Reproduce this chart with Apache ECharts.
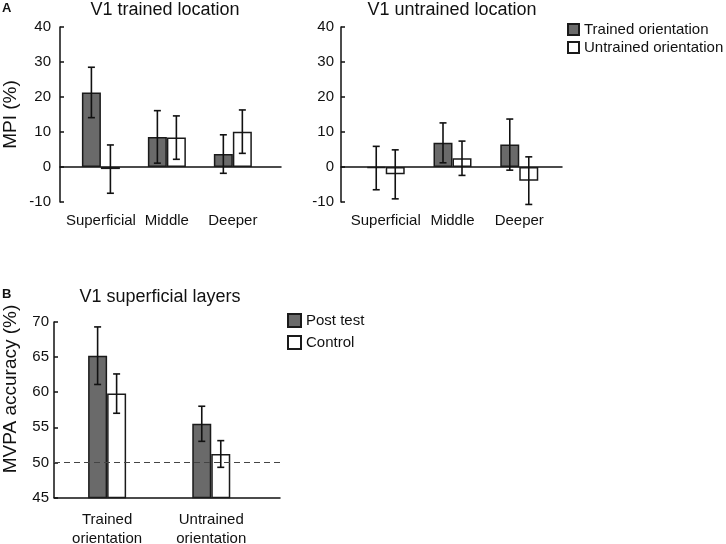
<!DOCTYPE html>
<html><head><meta charset="utf-8">
<script src="https://cdn.jsdelivr.net/npm/echarts@6/dist/echarts.min.js"></script>
<style>html,body{margin:0;padding:0;background:#fff}#c{width:726px;height:544px}</style>
</head><body><div id="c"></div>
<script>
// ---- Panel A data (MPI %) ----
const layerCats = ['Superficial', 'Middle', 'Deeper'];
const trainedLocTrained = [21.3, 8.6, 3.7];
const trainedLocTrainedErr = [7.2, 7.5, 5.5];
const trainedLocUntrained = [-0.6, 8.4, 10.1];
const trainedLocUntrainedErr = [6.9, 6.2, 6.2];
const untrainedLocTrained = [-0.3, 6.9, 6.4];
const untrainedLocTrainedErr = [6.2, 5.7, 7.3];
const untrainedLocUntrained = [-2.1, 2.5, -3.9];
const untrainedLocUntrainedErr = [7.0, 4.9, 6.8];

// ---- Panel B data (MVPA accuracy %) ----
const orientCats = ['Trained\norientation', 'Untrained\norientation'];
const postTest = [65.2, 55.5];
const postTestErr = [4.1, 2.5];
const control = [59.8, 51.2];
const controlErr = [2.8, 1.9];
const chanceLevel = 50;

const FONT = 'Liberation Sans, Arial, sans-serif';
const INK = '#111';
const DARK = '#6a6a6a';
const EDGE = '#1a1a1a';

function barSeries(name, vals, xIdx, yIdx, fill, extra) {
  return Object.assign({
    type: 'bar', name: name, xAxisIndex: xIdx, yAxisIndex: yIdx,
    data: vals.map((v, i) => [i, v]),
    barWidth: 19, barGap: '0%',
    itemStyle: { color: fill, borderColor: EDGE, borderWidth: 1.5 },
    emphasis: { disabled: true }, z: 2
  }, extra || {});
}
function errSeries(vals, errs, xIdx, yIdx, offset) {
  return {
    type: 'custom', xAxisIndex: xIdx, yAxisIndex: yIdx, silent: true, z: 5,
    encode: { x: 0, y: [1, 2] },
    data: vals.map((v, i) => [i, v - errs[i], v + errs[i]]),
    renderItem: function (params, api) {
      const lo = api.coord([api.value(0), api.value(1)]);
      const hi = api.coord([api.value(0), api.value(2)]);
      const x = lo[0] + offset, c = 3.5;
      const st = { stroke: INK, lineWidth: 1.6 };
      return { type: 'group', children: [
        { type: 'line', shape: { x1: x, y1: lo[1], x2: x, y2: hi[1] }, style: st },
        { type: 'line', shape: { x1: x - c, y1: lo[1], x2: x + c, y2: lo[1] }, style: st },
        { type: 'line', shape: { x1: x - c, y1: hi[1], x2: x + c, y2: hi[1] }, style: st }
      ]};
    }
  };
}
function lineAxis(grid, min, max) {
  return { type: 'value', gridIndex: grid, min: min, max: max, position: 'bottom',
    axisLine: { onZero: true, lineStyle: { color: INK, width: 1.5 } },
    axisTick: { show: false }, axisLabel: { show: false }, splitLine: { show: false } };
}
function labelAxis(grid, min, max, cats, margin, showLine) {
  return { type: 'value', gridIndex: grid, min: min, max: max, position: 'bottom',
    axisLine: { show: !!showLine, onZero: false, lineStyle: { color: INK, width: 1.5 } },
    axisTick: { show: false }, splitLine: { show: false },
    axisLabel: { customValues: cats.map((c, i) => i), formatter: v => cats[Math.round(v)] || '',
      fontSize: 15, color: INK, fontFamily: FONT, margin: margin, lineHeight: 19 } };
}
function yAx(grid, min, max, interval, margin, name) {
  const o = { type: 'value', gridIndex: grid, min: min, max: max, interval: interval,
    axisLine: { show: true, onZero: false, lineStyle: { color: INK, width: 1.5 } },
    axisTick: { show: true, inside: true, length: 4, lineStyle: { color: INK, width: 1.5 } },
    axisLabel: { fontSize: 15, color: INK, fontFamily: FONT, margin: margin },
    splitLine: { show: false } };
  if (name) Object.assign(o, { name: name, nameLocation: 'middle', nameGap: 40, nameRotate: 90,
    nameTextStyle: { fontSize: 19, color: INK, fontFamily: FONT } });
  return o;
}

const chart = echarts.init(document.getElementById('c'), null, { renderer: 'canvas' });
chart.setOption({
  animation: false,
  backgroundColor: '#fff',
  grid: [
    { left: 60, top: 27, width: 221, height: 175, outerBoundsMode: 'none', containLabel: false },
    { left: 341, top: 27, width: 221, height: 175, outerBoundsMode: 'none', containLabel: false },
    { left: 54, top: 322, width: 226, height: 175.5, outerBoundsMode: 'none', containLabel: false }
  ],
  xAxis: [
    lineAxis(0, -0.62, 2.73), labelAxis(0, -0.62, 2.73, layerCats, 9, false),
    lineAxis(1, -0.67, 2.64), labelAxis(1, -0.67, 2.64, layerCats, 9, false),
    labelAxis(2, -0.51, 1.66, orientCats, 13, true)
  ],
  yAxis: [
    yAx(0, -10, 40, 10, 9, 'MPI (%)'),
    yAx(1, -10, 40, 10, 7, null),
    yAx(2, 45, 70, 5, 5, null)
  ],
  legend: [
    { orient: 'vertical', left: 562, top: 17, itemWidth: 11, itemHeight: 11, itemGap: 3,
      itemTextGap: 4, icon: 'rect', selectedMode: false,
      textStyle: { fontSize: 15, color: INK, fontFamily: FONT },
      data: ['Trained orientation', 'Untrained orientation'] },
    { orient: 'vertical', left: 282, top: 308, itemWidth: 13, itemHeight: 13, itemGap: 7,
      itemTextGap: 3, icon: 'rect', selectedMode: false,
      textStyle: { fontSize: 15, color: INK, fontFamily: FONT },
      data: ['Post test', 'Control'] }
  ],
  graphic: [
    { type: 'text', x: 2, y: 8, style: { text: 'A', font: 'bold 13px ' + FONT, fill: INK, textVerticalAlign: 'middle', verticalAlign: 'middle' } },
    { type: 'text', x: 2, y: 294, style: { text: 'B', font: 'bold 13px ' + FONT, fill: INK, textVerticalAlign: 'middle', verticalAlign: 'middle' } },
    { type: 'text', x: 165, y: 10, style: { text: 'V1 trained location', font: '18px ' + FONT, fill: INK, textAlign: 'center', align: 'center', textVerticalAlign: 'middle', verticalAlign: 'middle' } },
    { type: 'text', x: 452, y: 10, style: { text: 'V1 untrained location', font: '18px ' + FONT, fill: INK, textAlign: 'center', align: 'center', textVerticalAlign: 'middle', verticalAlign: 'middle' } },
    { type: 'text', x: 160, y: 297, style: { text: 'V1 superficial layers', font: '18px ' + FONT, fill: INK, textAlign: 'center', align: 'center', textVerticalAlign: 'middle', verticalAlign: 'middle' } },
    { type: 'text', x: 11, y: 389, rotation: Math.PI / 2, style: { text: 'MVPA accuracy (%)', font: '19px ' + FONT, fill: INK, textAlign: 'center', align: 'center', textVerticalAlign: 'middle', verticalAlign: 'middle' } }
  ],
  series: [
    barSeries('Trained orientation', trainedLocTrained, 0, 0, DARK),
    barSeries('Untrained orientation', trainedLocUntrained, 0, 0, '#fff'),
    errSeries(trainedLocTrained, trainedLocTrainedErr, 0, 0, -9.5),
    errSeries(trainedLocUntrained, trainedLocUntrainedErr, 0, 0, 9.5),
    barSeries('Trained orientation', untrainedLocTrained, 2, 1, DARK),
    barSeries('Untrained orientation', untrainedLocUntrained, 2, 1, '#fff'),
    errSeries(untrainedLocTrained, untrainedLocTrainedErr, 2, 1, -9.5),
    errSeries(untrainedLocUntrained, untrainedLocUntrainedErr, 2, 1, 9.5),
    barSeries('Post test', postTest, 4, 2, DARK),
    barSeries('Control', control, 4, 2, '#fff', {
      markLine: { silent: true, symbol: 'none', z: 10, label: { show: false },
        lineStyle: { color: '#444', width: 1.2, type: [6, 4] },
        data: [{ yAxis: chanceLevel }] } }),
    errSeries(postTest, postTestErr, 4, 2, -9.5),
    errSeries(control, controlErr, 4, 2, 9.5)
  ]
});
</script>
</body></html>
